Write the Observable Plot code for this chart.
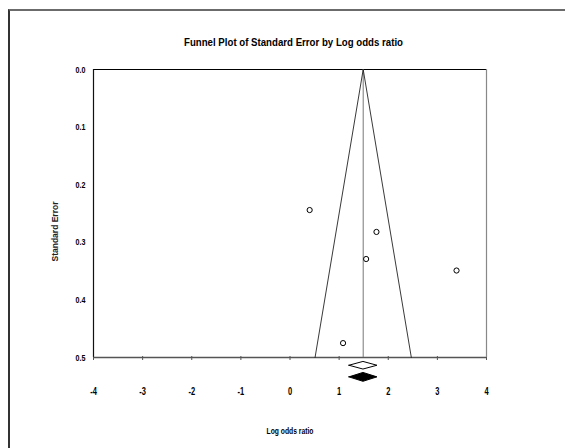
<!DOCTYPE html>
<html>
<head>
<meta charset="utf-8">
<script src="https://cdn.jsdelivr.net/npm/d3@7"></script>
<script src="https://cdn.jsdelivr.net/npm/@observablehq/plot@0.6"></script>
<style>
  html, body { margin: 0; padding: 0; background: #fff; }
  body { position: relative; width: 565px; height: 448px; overflow: hidden; font-family: "Liberation Sans", Arial, sans-serif; }
  #frame { position: absolute; left: 8px; top: 9px; width: 600px; height: 500px; border-top: 2px solid #6b6b6b; border-left: 2px solid #333; box-sizing: border-box; }
  #title { position: absolute; left: 0; top: 36px; width: 587px; text-align: center; font-weight: bold; font-size: 11.5px; line-height: 12px; color: #000; transform: scaleX(0.84); transform-origin: 293.5px 0; }
  #chart { position: absolute; left: 0; top: 55px; }
</style>
</head>
<body>
<div id="frame"></div>
<div id="title">Funnel Plot of Standard Error by Log odds ratio</div>
<div id="chart"></div>
<script>
// ---- data ----
const logOddsRatio = [0.40, 1.76, 1.55, 3.39, 1.08];
const standardError = [0.244, 0.282, 0.329, 0.349, 0.475];
const summaryEstimate = 1.49;          // combined log odds ratio (funnel centre)
const observedCI = [1.21, 1.78];       // open diamond (observed)
const adjustedCI = [1.21, 1.78];       // filled diamond (adjusted)
const xTickValues = [-4, -3, -2, -1, 0, 1, 2, 3, 4];
const yTickValues = [0.0, 0.1, 0.2, 0.3, 0.4, 0.5];
const seMax = 0.5;

const studies = logOddsRatio.map((x, i) => ({x, se: standardError[i]}));
const funnel = [
  {x: summaryEstimate - 1.96 * seMax, se: seMax},
  {x: summaryEstimate, se: 0},
  {x: summaryEstimate + 1.96 * seMax, se: seMax}
];
function diamond(ci, yc, h) {
  const mid = (ci[0] + ci[1]) / 2;
  return [
    {x: ci[0], y1: yc, y2: yc},
    {x: mid, y1: yc - h, y2: yc + h},
    {x: ci[1], y1: yc, y2: yc}
  ];
}
const openDiamond = diamond(observedCI, 0.5143, 0.0066);
const filledDiamond = diamond(adjustedCI, 0.5345, 0.0077);

const W = 565, H = 393;
const chart = Plot.plot({
  width: W,
  height: H,
  marginLeft: 93,
  marginRight: 79,
  marginTop: 14,
  marginBottom: 91,
  style: {background: "none", fontFamily: "'Liberation Sans', Arial, sans-serif", fontWeight: "bold", fontSize: "9px", color: "#000"},
  x: {domain: [-4, 4], label: null},
  y: {domain: [0, 0.5], reverse: true, label: null},
  marks: [
    // y axis labels
    Plot.axisY({ticks: yTickValues, tickSize: 0, tickPadding: 8, tickFormat: d3.format(".1f"), label: null, fontSize: 9.5, fontWeight: "bold", fill: "#000"}),
    // x tick marks on the baseline
    Plot.axisX({ticks: xTickValues, tickSize: 4, tickFormat: () => "", label: null, dy: -1, stroke: "#555"}),
    // x tick labels (pushed below the diamonds)
    Plot.axisX({ticks: xTickValues, tickSize: 0, tickPadding: 30, tickFormat: d => String(d), label: null, fontSize: 10, fontWeight: "bold", fill: "#000"}),
    // plot frame
    Plot.ruleY([0], {stroke: "#000", strokeWidth: 1.2}),
    Plot.ruleX([-4], {stroke: "#111", strokeWidth: 1.2}),
    Plot.ruleX([4], {stroke: "#888", strokeWidth: 1.2}),
    Plot.ruleY([0.5], {stroke: "#555", strokeWidth: 1.5}),
    // funnel centre line
    Plot.ruleX([summaryEstimate], {y1: 0, y2: 0.5, stroke: "#777", strokeWidth: 1}),
    // funnel
    Plot.line(funnel, {x: "x", y: "se", stroke: "#222", strokeWidth: 0.9}),
    // studies
    Plot.dot(studies, {x: "x", y: "se", r: 2.6, stroke: "#000", strokeWidth: 1, fill: "white"}),
    // diamonds
    Plot.areaY(openDiamond, {x: "x", y1: "y1", y2: "y2", fill: "white", stroke: "#000", strokeWidth: 1}),
    Plot.areaY(filledDiamond, {x: "x", y1: "y1", y2: "y2", fill: "#000", stroke: "#000", strokeWidth: 1}),
    // axis titles
    Plot.text(["Log odds ratio"], {frameAnchor: "bottom", dy: 76, fontSize: 9, fontWeight: "bold", fill: "#000"}),
    Plot.text(["Standard Error"], {frameAnchor: "left", textAnchor: "middle", rotate: -90, dx: -38, dy: 18, fontSize: 8.5, fontWeight: "bold", letterSpacing: "1.6px", fill: "#222"})
  ]
});
// condense the horizontal text like the reference's narrow font
d3.select(chart).selectAll("text").each(function () {
  const t = this.getAttribute("transform");
  if (t && !/rotate/.test(t)) this.setAttribute("transform", t + " scale(0.75,1)");
});
document.getElementById("chart").appendChild(chart);
</script>
</body>
</html>
